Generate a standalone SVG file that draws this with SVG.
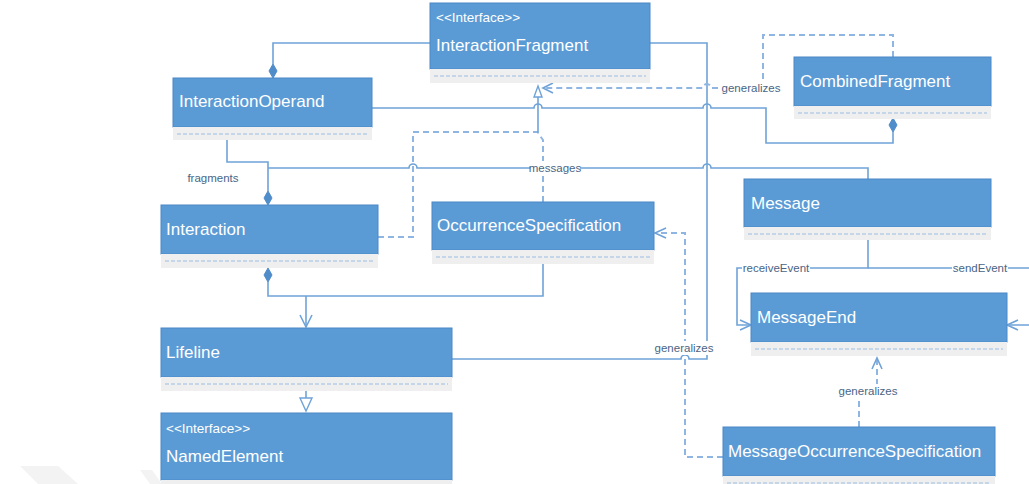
<svg xmlns="http://www.w3.org/2000/svg" width="1029" height="484" viewBox="0 0 1029 484">
  <style>
    .hdr { fill: #5b9bd5; stroke: #4a88c7; stroke-width: 1; }
    .cmp { fill: #efefef; }
    .sep { stroke: #9dbde3; stroke-width: 1; stroke-dasharray: 4 2; fill: none; }
    .name { font-family: "Liberation Sans", Arial, sans-serif; font-size: 17px; fill: #ffffff; }
    .stereo { font-family: "Liberation Sans", Arial, sans-serif; font-size: 13.5px; fill: #ffffff; }
    .ln { fill: none; stroke: #6fa3d8; stroke-width: 1.6; }
    .dash { fill: none; stroke: #8fb6e3; stroke-width: 2; stroke-dasharray: 6 4; }
    .dia { fill: #4f8cca; stroke: #4f8cca; stroke-width: 1; }
    .tri { fill: #ffffff; stroke: #6fa3d8; stroke-width: 1.4; }
    .lbl { font-family: "Liberation Sans", Arial, sans-serif; font-size: 11.5px; fill: #4a6585; text-anchor: middle; }
    .lblbg { fill: #ffffff; }
  </style>

  <!-- faint background marks -->
  <g id="backdrop">
    <polygon points="20,466 58,466 78,484 38,484" fill="#f3f3f3"/>
    <polygon points="140,470 152,470 162,484 150,484" fill="#f3f3f3"/>
  </g>

  <!-- connectors -->
  <g id="connectors">
    <!-- InteractionFragment to InteractionOperand (composition) -->
    <path class="ln" d="M430,43 H273 V64"/>
    <polygon class="dia" points="273,64 277,71 273,78 269,71"/>

    <!-- InteractionOperand to CombinedFragment (composition) -->
    <path class="ln" d="M372,108 H534 a4,4 0 0 1 8,0 H703 a4,4 0 0 1 8,0 H766 V143 H893 V132"/>
    <polygon class="dia" points="893,118 897,125 893,132 889,125"/>

    <!-- InteractionFragment to Lifeline -->
    <path class="ln" d="M650,43 H707 V359 H689 a4,4 0 0 0 -8,0 H452"/>

    <!-- fragments: InteractionOperand to Interaction -->
    <path class="ln" d="M227,140 V162 H268 V191"/>
    <polygon class="dia" points="268,191 272,198 268,205 264,198"/>

    <!-- messages: Interaction to Message -->
    <path class="ln" d="M868,179 V168 H711 a4,4 0 0 0 -8,0 H417 a4,4 0 0 0 -8,0 H268"/>

    <!-- Interaction / OccurrenceSpecification to Lifeline -->
    <polygon class="dia" points="268,268 272,275 268,282 264,275"/>
    <path class="ln" d="M268,282 V296 H543 V264"/>
    <path class="ln" d="M306,296 V327"/>
    <path class="ln" d="M300,315 L306,327 L312,315"/>

    <!-- Lifeline generalizes NamedElement -->
    <path class="ln" d="M306,391 V398"/>
    <polygon class="tri" points="300,398 312,398 306,411"/>

    <!-- Interaction and OccurrenceSpecification generalize InteractionFragment -->
    <path class="dash" d="M378,237 H413 V132 H538"/>
    <path class="dash" d="M543,202 V140 L538,133"/>
    <path class="ln" d="M538,133 V97"/>
    <polygon class="tri" points="538,86 542,97 534,97"/>

    <!-- CombinedFragment generalizes InteractionFragment -->
    <path class="dash" d="M893,57 V35 H763 V88 H711 a4,4 0 0 0 -8,0 H544"/>
    <path class="ln" d="M553,83 L543,88 L553,93"/>

    <!-- MessageOccurrenceSpecification generalizes OccurrenceSpecification -->
    <path class="dash" d="M723,457 H685 V233 H656"/>
    <path class="ln" d="M666,228 L655,233 L666,238"/>

    <!-- MessageOccurrenceSpecification generalizes MessageEnd -->
    <path class="dash" d="M859,427 V395 H877 V359"/>
    <path class="ln" d="M872,369 L877,358 L882,369"/>

    <!-- receiveEvent / sendEvent: Message to MessageEnd -->
    <path class="ln" d="M868,240 V268 H737 V325 H750"/>
    <path class="ln" d="M740,320 L751,325 L740,330"/>
    <path class="ln" d="M868,268 H1040 V325 H1008"/>
    <path class="ln" d="M1018,320 L1007,325 L1018,330"/>

    <!-- connector labels -->
    <rect class="lblbg" x="722" y="81" width="58" height="14"/>
    <text class="lbl" x="751" y="92">generalizes</text>
    <rect class="lblbg" x="530" y="161" width="50" height="14"/>
    <text class="lbl" x="555" y="172">messages</text>
    <text class="lbl" x="213" y="182">fragments</text>
    <rect class="lblbg" x="742" y="261" width="68" height="14"/>
    <text class="lbl" x="776" y="272">receiveEvent</text>
    <rect class="lblbg" x="952" y="261" width="56" height="14"/>
    <text class="lbl" x="980" y="272">sendEvent</text>
    <rect class="lblbg" x="654" y="341" width="60" height="14"/>
    <text class="lbl" x="684" y="352">generalizes</text>
    <rect class="lblbg" x="838" y="384" width="60" height="14"/>
    <text class="lbl" x="868" y="395">generalizes</text>
  </g>

  <!-- class nodes -->
  <g id="InteractionFragment">
    <rect class="hdr" x="430" y="3" width="220" height="66"/>
    <rect class="cmp" x="430" y="69" width="220" height="14"/>
    <line class="sep" x1="434" y1="76" x2="646" y2="76"/>
    <text class="stereo" x="436" y="22">&lt;&lt;Interface&gt;&gt;</text>
    <text class="name" x="436" y="51">InteractionFragment</text>
  </g>

  <g id="InteractionOperand">
    <rect class="hdr" x="173" y="78" width="199" height="49"/>
    <rect class="cmp" x="173" y="127" width="199" height="13"/>
    <line class="sep" x1="177" y1="134" x2="368" y2="134"/>
    <text class="name" x="179" y="107">InteractionOperand</text>
  </g>

  <g id="CombinedFragment">
    <rect class="hdr" x="794" y="57" width="197" height="49"/>
    <rect class="cmp" x="794" y="106" width="197" height="13"/>
    <line class="sep" x1="798" y1="113" x2="987" y2="113"/>
    <text class="name" x="800" y="87">CombinedFragment</text>
  </g>

  <g id="Interaction">
    <rect class="hdr" x="161" y="205" width="217" height="49"/>
    <rect class="cmp" x="161" y="254" width="217" height="14"/>
    <line class="sep" x1="165" y1="261" x2="374" y2="261"/>
    <text class="name" x="166" y="235">Interaction</text>
  </g>

  <g id="OccurrenceSpecification">
    <rect class="hdr" x="432" y="202" width="222" height="48"/>
    <rect class="cmp" x="432" y="250" width="222" height="14"/>
    <line class="sep" x1="436" y1="257" x2="650" y2="257"/>
    <text class="name" x="437" y="231">OccurrenceSpecification</text>
  </g>

  <g id="Message">
    <rect class="hdr" x="744" y="179" width="247" height="48"/>
    <rect class="cmp" x="744" y="227" width="247" height="13"/>
    <line class="sep" x1="748" y1="234" x2="987" y2="234"/>
    <text class="name" x="751" y="209">Message</text>
  </g>

  <g id="MessageEnd">
    <rect class="hdr" x="751" y="293" width="256" height="49"/>
    <rect class="cmp" x="751" y="342" width="256" height="14"/>
    <line class="sep" x1="755" y1="349" x2="1003" y2="349"/>
    <text class="name" x="757" y="323">MessageEnd</text>
  </g>

  <g id="Lifeline">
    <rect class="hdr" x="161" y="328" width="291" height="49"/>
    <rect class="cmp" x="161" y="377" width="291" height="14"/>
    <line class="sep" x1="165" y1="384" x2="448" y2="384"/>
    <text class="name" x="166" y="358">Lifeline</text>
  </g>

  <g id="NamedElement">
    <rect class="hdr" x="161" y="413" width="291" height="67"/>
    <rect class="cmp" x="161" y="480" width="291" height="10"/>
    <text class="stereo" x="166" y="433">&lt;&lt;Interface&gt;&gt;</text>
    <text class="name" x="166" y="462">NamedElement</text>
  </g>

  <g id="MessageOccurrenceSpecification">
    <rect class="hdr" x="723" y="427" width="272" height="49"/>
    <rect class="cmp" x="723" y="476" width="272" height="14"/>
    <line class="sep" x1="727" y1="483" x2="991" y2="483"/>
    <text class="name" x="728" y="457">MessageOccurrenceSpecification</text>
  </g>
</svg>
